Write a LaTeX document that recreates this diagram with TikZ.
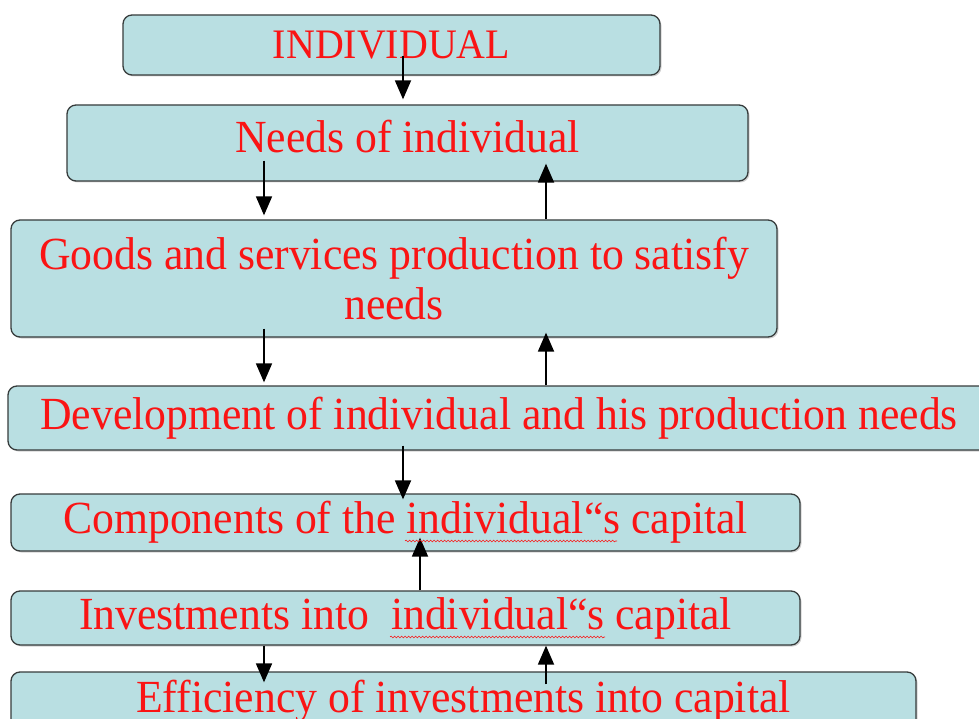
\documentclass[tikz,border=0pt]{standalone}
\usepackage{fontspec}
\setmainfont{Liberation Serif}[FakeStretch=0.95]
\usetikzlibrary{arrows.meta,calc,shadows,decorations.pathmorphing}
\definecolor{boxfill}{RGB}{185,223,226}
\definecolor{boxline}{RGB}{55,60,60}
\definecolor{txtred}{RGB}{250,20,20}
\begin{document}
\begin{tikzpicture}[x=1pt,y=-1pt]
\tikzstyle{blk}=[draw=boxline,line width=1.3pt,fill=boxfill,rounded corners=9pt,
  text=txtred,font=\fontsize{46}{50}\selectfont,inner sep=0pt,
  drop shadow={shadow xshift=1.5pt,shadow yshift=-1.5pt,opacity=0.35}];
\tikzstyle{arr}=[line width=1.8pt,-{Triangle[width=16pt,length=19pt]}];
\tikzstyle{squig}=[txtred,line width=0.6pt,decorate,
  decoration={snake,amplitude=0.9pt,segment length=3.5pt}];
\clip (0,0) rectangle (979,719);
\fill[white] (0,0) rectangle (979,719);
% boxes
\node[blk,minimum width=537,minimum height=60,font=\fontsize{42}{46}\selectfont] (ind) at (391.5,45) {INDIVIDUAL};
\node[blk,minimum width=681,minimum height=76] (needs) at (407.5,143) {\raisebox{13pt}{Needs of individual}};
\node[blk,minimum width=766,minimum height=117,align=center] (goods) at (394,278.5) {Goods and services production to satisfy\\needs};
\node[blk,minimum width=982,minimum height=64] (devel) at (499,418) {\raisebox{5pt}{Development of individual and his production needs}};
\node[blk,minimum width=789,minimum height=57] (comp) at (405.5,522.5) {Components of the individual“s capital};
\node[blk,minimum width=789,minimum height=54] (invest) at (405.5,618) {Investments into \ individual“s capital};
\node[blk,minimum width=905,minimum height=60] (effic) at (463.5,702) {\raisebox{11pt}{Efficiency of investments into capital}};
% arrow columns
\coordinate (cl) at (264,0);
\coordinate (cm) at (403,0);
\coordinate (cr) at (546,0);
\coordinate (cc) at (420,0);
% arrows
\draw[arr] ($(ind.south -| cm)+(0,-20)$) -- ($(needs.north -| cm)+(0,-5)$);
\draw[arr] ($(needs.south -| cl)+(0,-21)$) -- ($(goods.north -| cl)+(0,-4)$);
\draw[arr] (goods.north -| cr) -- ($(needs.south -| cr)+(0,-18)$);
\draw[arr] ($(goods.south -| cl)+(0,-9)$) -- ($(devel.north -| cl)+(0,-3)$);
\draw[arr] (devel.north -| cr) -- ($(goods.south -| cr)+(0,-5)$);
\draw[arr] ($(devel.south -| cm)+(0,-5)$) -- ($(comp.north -| cm)+(0,6)$);
\draw[arr] (invest.north -| cc) -- ($(comp.south -| cc)+(0,-14)$);
\draw[arr] (invest.south -| cl) -- ($(effic.north -| cl)+(0,11)$);
\draw[arr] ($(effic.north -| cr)+(0,13)$) -- (invest.south -| cr);
% spelling marks
\draw[squig] (405,541) -- (617,541);
\draw[squig] (390,637) -- (605,637);
\end{tikzpicture}
\end{document}
